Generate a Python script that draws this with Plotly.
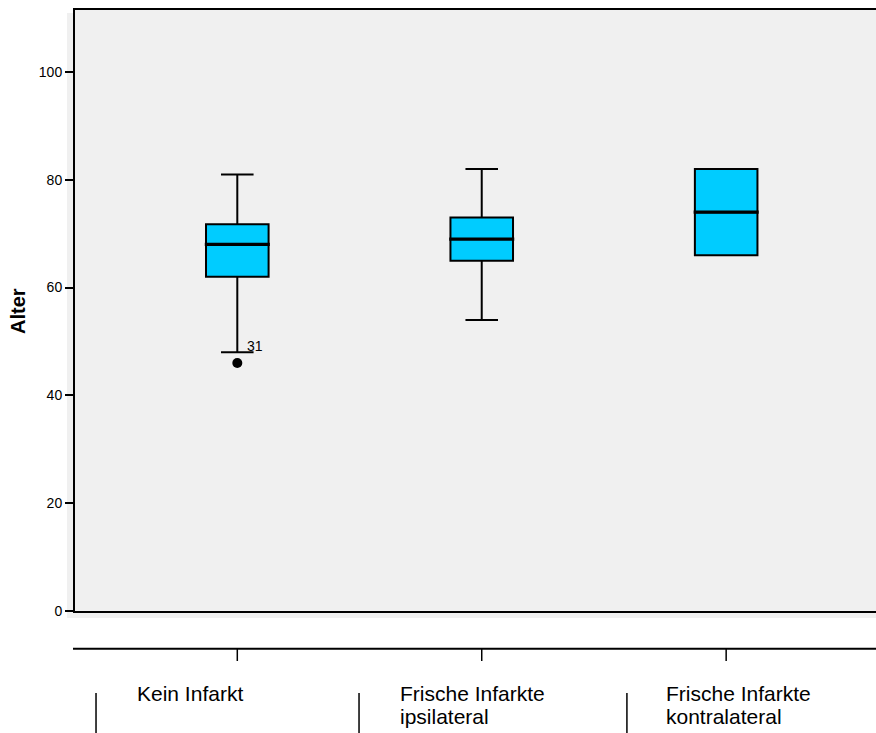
import plotly.graph_objects as go

# Age by infarct group (box plot summary statistics)
categories = ["Kein Infarkt", "Frische Infarkte\nipsilateral", "Frische Infarkte\nkontralateral"]
q1 = [62, 65, 66]
median = [68, 69, 74]
q3 = [71.75, 73, 82]
lower_whisker = [48, 54, 66]
upper_whisker = [81, 82, 82]

# Outliers: group index, value, case number
outlier_group = [0]
outlier_value = [46]
outlier_case = ["31"]

y_ticks = [0, 20, 40, 60, 80, 100]

W, H = 876, 733
TOP = 10
PH = H - TOP  # paper height in pixels


def py(pixel_y):
    """Convert a pixel row (from the top of the page) to paper y."""
    return (H - pixel_y) / PH


FONT = "Liberation Sans, Arial, sans-serif"
BOX_W = 0.256
GREY = "#F0F0F0"

positions = list(range(len(categories)))

fig = go.Figure()

fig.add_trace(go.Box(
    x=positions,
    q1=q1, median=median, q3=q3,
    lowerfence=lower_whisker, upperfence=upper_whisker,
    width=BOX_W,
    whiskerwidth=0.52,
    fillcolor="#00CCFF",
    line=dict(color="black", width=2),
    boxpoints=False,
    hoverinfo="skip",
))

# thicker median bars
for i, m in zip(positions, median):
    fig.add_trace(go.Scatter(
        x=[i - BOX_W / 2 - 0.005, i + BOX_W / 2 + 0.005], y=[m, m],
        mode="lines", line=dict(color="black", width=3.2),
        hoverinfo="skip",
    ))

fig.add_trace(go.Scatter(
    x=outlier_group, y=outlier_value, mode="markers",
    marker=dict(color="black", size=10, symbol="circle"),
    hoverinfo="skip",
))
for g, v, c in zip(outlier_group, outlier_value, outlier_case):
    fig.add_annotation(x=g, y=v, text=c, showarrow=False, xanchor="left",
                       yanchor="middle", xshift=8, yshift=17,
                       font=dict(family=FONT, size=14, color="black"))

shapes = []
# grey panel slightly larger than the axis frame
shapes.append(dict(type="rect", xref="paper", yref="paper",
                   x0=-8 / 801, x1=1.0, y0=py(618), y1=py(13),
                   fillcolor=GREY, line=dict(width=0), layer="below"))

# category axis below the panel
axis_y = py(648.7)
tick_y = py(661)
shapes.append(dict(type="line", xref="paper", yref="paper",
                   x0=-2 / 801, x1=1.0, y0=axis_y, y1=axis_y,
                   line=dict(color="black", width=2)))

sep_offset = [-0.578, -0.502, -0.406]
label_offset = [-0.419, -0.342, -0.254]
for i, cat in enumerate(categories):
    shapes.append(dict(type="line", xref="x", yref="paper",
                       x0=i, x1=i, y0=axis_y, y1=tick_y,
                       line=dict(color="black", width=1.5)))
    shapes.append(dict(type="line", xref="x", yref="paper",
                       x0=i + sep_offset[i], x1=i + sep_offset[i], y0=py(693), y1=py(H),
                       line=dict(color="black", width=1.5)))
    for k, line_text in enumerate(cat.split("\n")):
        fig.add_annotation(x=i + label_offset[i], xref="x", yref="paper",
                           y=py(693 + 23 * k), text=line_text,
                           showarrow=False, xanchor="left", yanchor="middle",
                           font=dict(family=FONT, size=21, color="black"))

fig.add_annotation(x=(18 - 75) / 801, y=py(311), xref="paper", yref="paper",
                   text="<b>Alter</b>", textangle=-90, showarrow=False,
                   xanchor="center", yanchor="middle",
                   font=dict(family=FONT, size=20, color="black"))

fig.update_layout(
    width=W, height=H,
    margin=dict(l=75, r=0, t=TOP, b=0, autoexpand=False),
    paper_bgcolor="white",
    plot_bgcolor=GREY,
    showlegend=False,
    shapes=shapes,
    xaxis=dict(range=[-0.664, 2.613], showline=True, linecolor="black", linewidth=2,
               mirror=True, ticks="", showticklabels=False, showgrid=False,
               zeroline=False, fixedrange=True),
    yaxis=dict(domain=[py(611), 1], range=[0, 111.5], tickvals=y_ticks,
               showline=True, linecolor="black", linewidth=2, ticks="outside",
               ticklen=8, tickwidth=1.5, tickcolor="black", showgrid=False,
               zeroline=False, tickfont=dict(family=FONT, size=14, color="black"),
               fixedrange=True),
)

fig.write_html("out.html")
